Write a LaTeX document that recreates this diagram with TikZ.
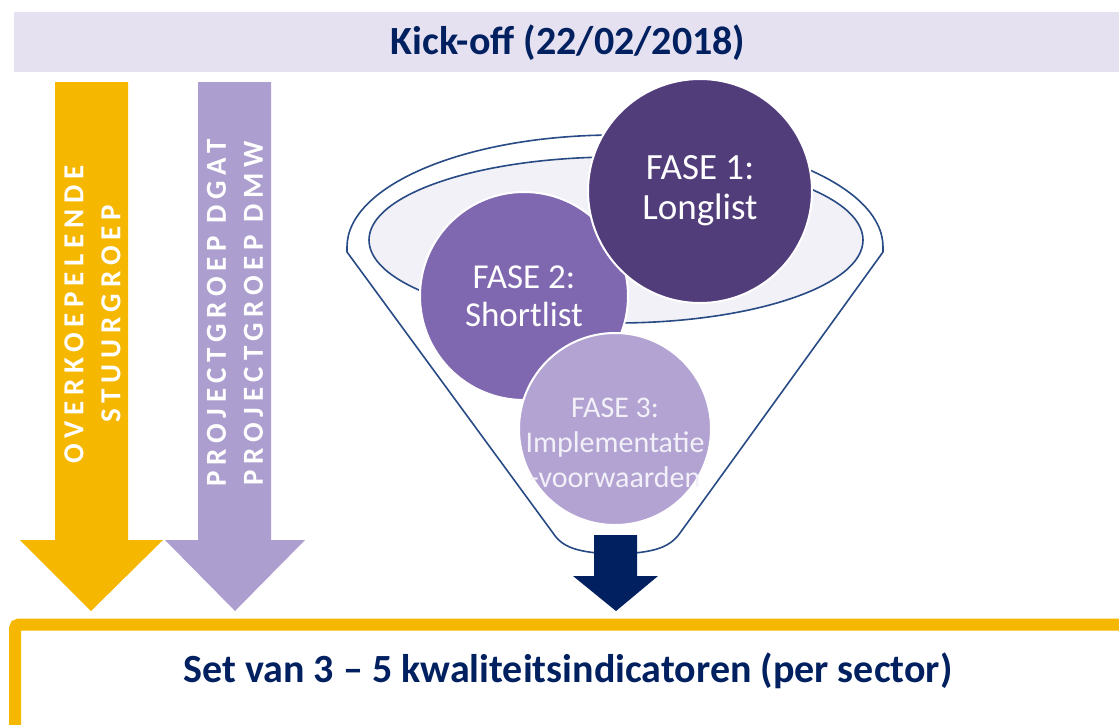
\documentclass[tikz,border=0pt]{standalone}
\usepackage{fontspec}
\setmainfont{Carlito}
\newfontfamily\trackedfont[LetterSpace=20]{Carlito}

\definecolor{navy}{HTML}{002060}
\definecolor{gold}{HTML}{F5B700}
\definecolor{lilac}{HTML}{AC9ECE}
\definecolor{barfill}{HTML}{E5E1F1}
\definecolor{phaseone}{HTML}{523D7B}
\definecolor{phasetwo}{HTML}{7F68B0}
\definecolor{phasethree}{HTML}{B2A3D2}
\definecolor{funnelblue}{HTML}{284A85}
\definecolor{rimfill}{HTML}{F3F1F8}
\definecolor{paletext}{HTML}{F2F0F8}

\tikzset{
  funnelline/.style={draw=funnelblue, line width=1.6pt, line join=round},
  phase/.style={circle, draw=white, line width=2pt, inner sep=0pt, text=white, align=center},
  grouplabel/.style={rotate=90, text=white, align=center,
    font=\trackedfont\bfseries\fontsize{29}{37}\selectfont},
  headline/.style={text=navy, font=\bfseries\fontsize{40}{44}\selectfont},
}

\begin{document}
\begin{tikzpicture}[x=1pt, y=-1pt]
\useasboundingbox (0,0) rectangle (1119,724);
\clip (0,0) rectangle (1119,724);

% kick-off banner
\fill[barfill] (14,12) rectangle (1130,72);
\node[headline] (kickoff) at (568,43) {Kick-off (22/02/2018)};

% result box along the bottom
\draw[gold, line width=12pt, rounded corners=4pt] (15,624.5) rectangle (1140,760);
\node[headline] (result) at (568,671) {Set van 3 -- 5 kwaliteitsindicatoren (per sector)};

% steering group arrow
\fill[gold] (55,82) -- (128,82) -- (128,540) -- (163,540) -- (91,611)
  -- (20,540) -- (55,540) -- cycle;
\node[grouplabel] (steer) at (92.5,314) {OVERKOEPELENDE\\STUURGROEP};

% project group arrow
\fill[lilac] (198,82) -- (271,82) -- (271,540) -- (305,540) -- (235,611)
  -- (165,540) -- (198,540) -- cycle;
\node[grouplabel] (project) at (235,313) {PROJECTGROEP DGAT\\PROJECTGROEP DMW};

% funnel body
\draw[funnelline, fill=white]
  (347,247) .. controls (347,185) and (467,135) .. (615,135)
  .. controls (763,135) and (883,185) .. (883,247)
  -- (883,252) -- (680,533)
  .. controls (670,547) and (655,553) .. (616,554)
  .. controls (577,553) and (562,547) .. (553,533)
  -- (347,252) -- cycle;
% funnel opening
\draw[funnelline, fill=rimfill] (616,240) ellipse [x radius=247, y radius=83];

% phases
\node[phase, fill=phasetwo, minimum size=208pt,
  font=\fontsize{35}{38}\selectfont] (fase2) at (524,296) {FASE 2:\\Shortlist};
\node[phase, fill=phaseone, minimum size=224pt,
  font=\fontsize{37}{40}\selectfont] (fase1) at (700,191) {FASE 1:\\Longlist};
\node[phase, fill=phasethree, minimum size=192pt] (fase3) at (615,429) {};
\node[text=paletext, align=center, font=\fontsize{30}{35}\selectfont]
  (fase3text) at (615,443) {FASE 3:\\Implementatie\\-voorwaarden};

% outflow arrow
\fill[navy] (594,535) -- (637,535) -- (637,576) -- (658,576) -- (616,611)
  -- (573,576) -- (594,576) -- cycle;
\end{tikzpicture}
\end{document}
